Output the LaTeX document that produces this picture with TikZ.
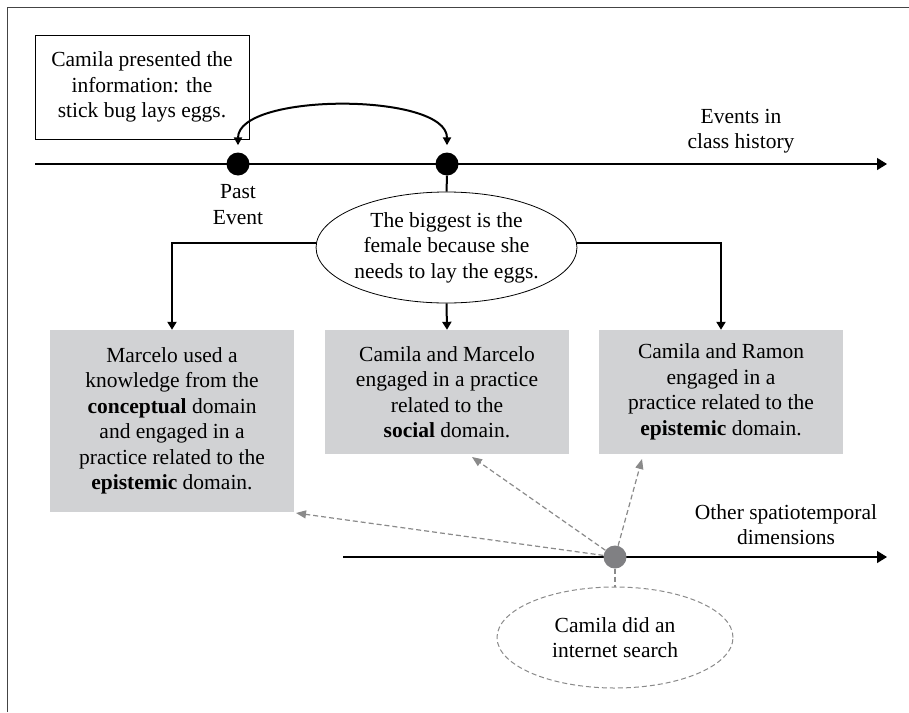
\documentclass[tikz,border=0pt]{standalone}
\usepackage{fontspec}
\setmainfont{Liberation Serif}
\usetikzlibrary{shapes.geometric,arrows.meta}
\definecolor{boxgray}{HTML}{D1D2D4}
\definecolor{dotgray}{HTML}{808083}
\definecolor{dashgray}{HTML}{8A8A8A}
\definecolor{framecol}{HTML}{444444}
\begin{document}
\begin{tikzpicture}[x=1pt,y=-1pt,
  txt/.style={font=\fontsize{21.5}{25.5}\selectfont, align=center, inner sep=0pt},
  graybox/.style={txt, fill=boxgray, minimum width=244pt},
  bigdot/.style={circle, fill=black, minimum size=23pt, inner sep=0pt},
  graydot/.style={circle, fill=dotgray, minimum size=23pt, inner sep=0pt},
  timeline/.style={line width=1.3pt, -{Triangle[length=10pt,width=12pt]}},
  conn/.style={line width=2pt, -{Triangle[length=8pt,width=9pt]}},
  curvearrow/.style={line width=2pt, {Triangle[length=8pt,width=8pt]}-{Triangle[length=8pt,width=8pt]}},
  graydash/.style={draw=dashgray, line width=1.2pt, dash pattern=on 5pt off 3pt},
  grayarrow/.style={graydash, -{Triangle[length=10pt,width=8pt]}, dashgray}
]
\useasboundingbox (0,0) rectangle (909,712);
\draw[framecol, line width=1pt] (7,712) -- (7,7) -- (909,7);

% top timeline
\coordinate (tlAstart) at (35,164);
\coordinate (tlAend) at (887,164);
\draw[timeline] (tlAstart) -- (tlAend);

\node[txt, draw, line width=0.9pt, minimum width=214pt, minimum height=104pt] (info) at (142,87)
  {Camila presented the\\information: the\\stick bug lays eggs.};
\node[bigdot] (past) at (238,164) {};
\node[bigdot] (now) at (447,164) {};
\node[txt] (pastlbl) at (238,204.5) {Past\\Event};
\node[txt] (evlbl) at (741,131) {Events in\\class history};

\draw[curvearrow, shorten <=7pt, shorten >=7pt] (past.north) .. controls +(0,-60) and +(0,-60) .. (now.north);

\node[txt, draw, ellipse, line width=0.8pt, minimum width=235pt, minimum height=111pt] (claim) at (446.5,247.5)
  {The biggest is the\\female because she\\needs to lay the eggs.};
\draw[line width=2pt] (now.south) -- (claim.north);

% gray boxes
\node[graybox, minimum height=182pt] (boxA) at (172,421)
  {Marcelo used a\\knowledge from the\\\textbf{conceptual} domain\\and engaged in a\\practice related to the\\\textbf{epistemic} domain.};
\node[graybox, minimum height=124pt] (boxB) at (447,392)
  {Camila and Marcelo\\engaged in a practice\\related to the\\\textbf{social} domain.};
\node[graybox, minimum height=124pt] (boxC) at (721,392)
  {Camila and Ramon\\engaged in a\\practice related to the\\\textbf{epistemic} domain.};

\draw[conn] (claim.178) -| (boxA.north);
\draw[conn] (claim.south) -- (boxB.north);
\draw[conn] (claim.2) -| (boxC.north);

% bottom timeline
\coordinate (tlBstart) at (343,557);
\coordinate (tlBend) at (887,557);
\draw[timeline] (tlBstart) -- (tlBend);
\node[txt] (otherlbl) at (786,524.5) {Other spatiotemporal\\dimensions};
\node[graydot] (search) at (615,557) {};

\node[txt, ellipse, graydash, line width=1pt, minimum width=236pt, minimum height=101pt] (srch) at (615,637.5)
  {Camila did an\\internet search};
\draw[graydash] (search) -- (srch.north);

\coordinate (tipA) at (296,513);
\coordinate (tipB) at (472,457);
\coordinate (tipC) at (642,459);
\draw[grayarrow] (search) -- (tipA);
\draw[grayarrow] (search) -- (tipB);
\draw[grayarrow] (search) -- (tipC);
\end{tikzpicture}
\end{document}
